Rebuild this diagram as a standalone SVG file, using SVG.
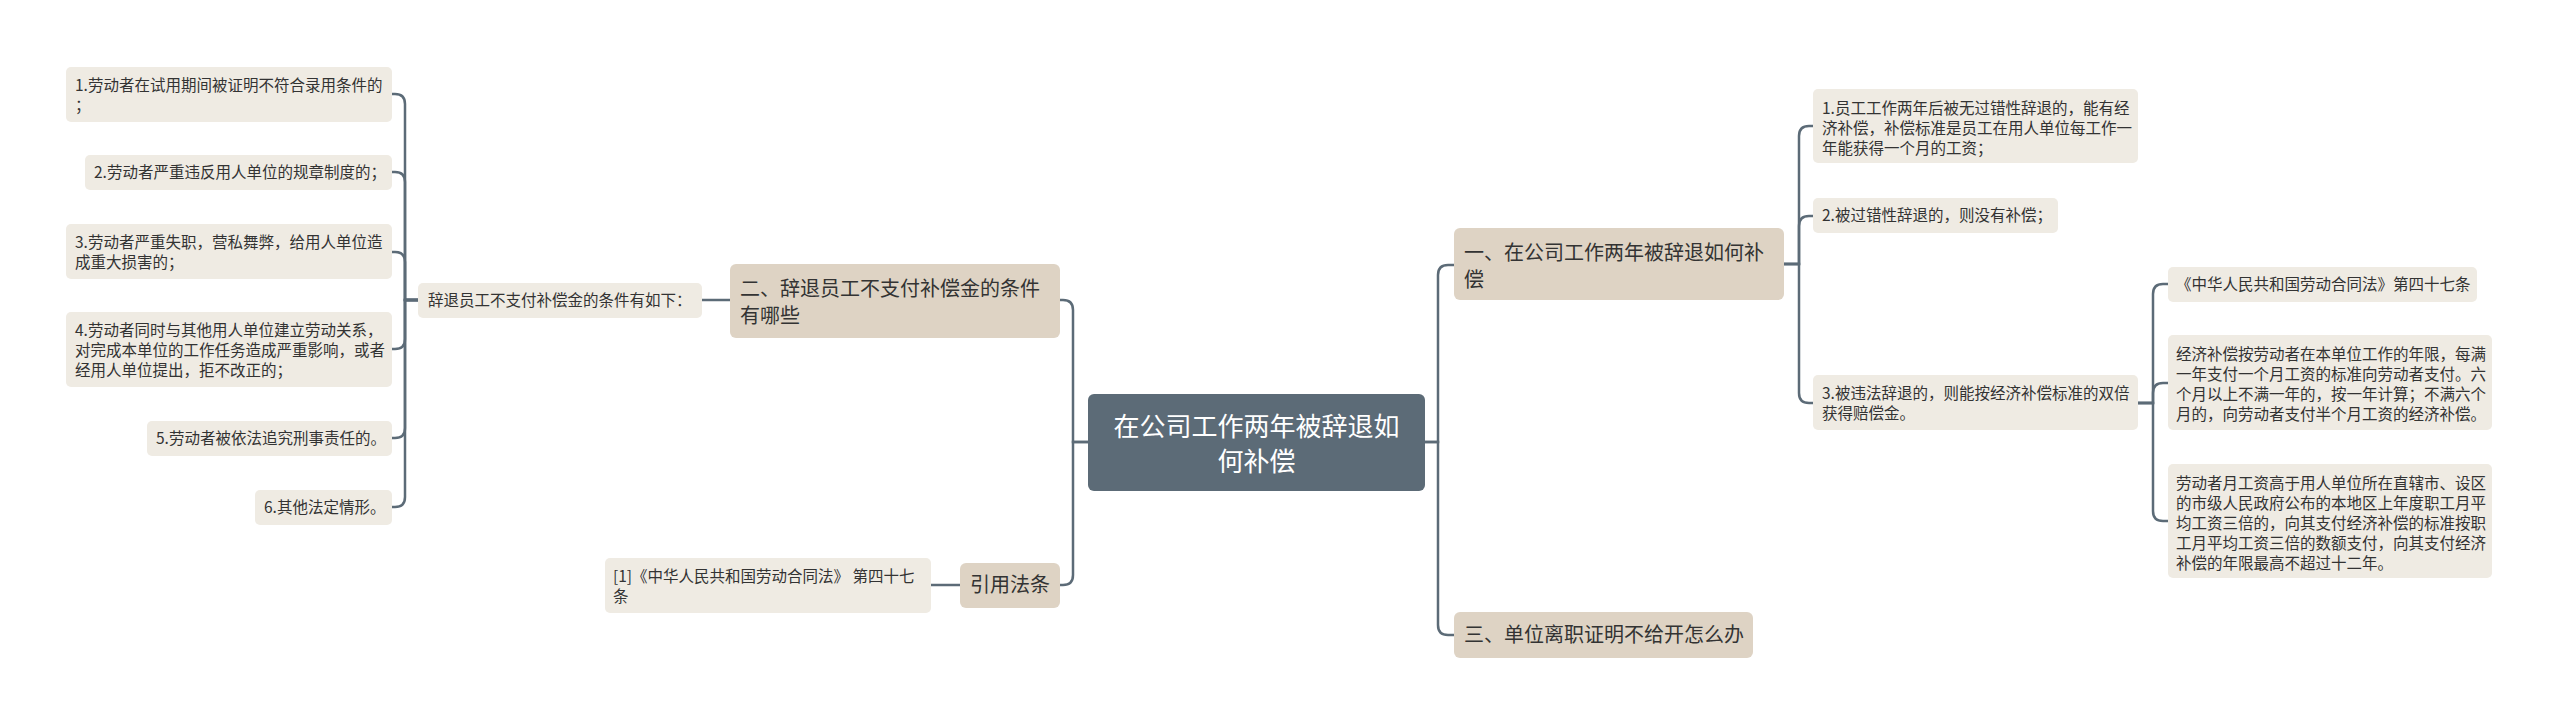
<svg xmlns="http://www.w3.org/2000/svg" width="2560" height="725" viewBox="0 0 2560 725">
<style>
.bg{fill:#ffffff}
.root rect{fill:#5c6b77}
.root text{fill:#ffffff;font-size:26px}
.l1 rect{fill:#ded3c4}
.l1 text{fill:#333333;font-size:20px}
.leaf rect{fill:#efebe3}
.leaf text{fill:#333333;font-size:15.5px}
text{font-family:"Noto Sans CJK SC","Noto Sans",sans-serif}
.conn path{fill:none;stroke:#5c6b77;stroke-width:2.5}
</style>
<rect class="bg" x="0" y="0" width="2560" height="725"/>
<g class="conn" id="connectors">
<path d="M1088 442 H1073 V310 Q1073 300 1063 300 H1060"/>
<path d="M1088 442 H1073 V575 Q1073 585 1063 585 H1059"/>
<path d="M1425 442 H1438 V275 Q1438 265 1448 265 H1454"/>
<path d="M1425 442 H1438 V625 Q1438 635 1448 635 H1454"/>
<path d="M730 300 H702"/>
<path d="M960 585 H931"/>
<path d="M418 300 H405 V104 Q405 94 395 94 H392"/>
<path d="M418 300 H405 V182 Q405 172 395 172 H392"/>
<path d="M418 300 H405 V262 Q405 252 395 252 H392"/>
<path d="M418 300 H405 V339 Q405 349 395 349 H392"/>
<path d="M418 300 H405 V428 Q405 438 395 438 H392"/>
<path d="M418 300 H405 V497 Q405 507 395 507 H392"/>
<path d="M1784 264 H1799 V136 Q1799 126 1809 126 H1813"/>
<path d="M1784 264 H1799 V226 Q1799 216 1809 216 H1813"/>
<path d="M1784 264 H1799 V393 Q1799 403 1809 403 H1813"/>
<path d="M2138 403 H2153 V294 Q2153 284 2163 284 H2168"/>
<path d="M2138 403 H2153 V393 Q2153 383 2163 383 H2168"/>
<path d="M2138 403 H2153 V511 Q2153 521 2163 521 H2168"/>
</g>
<g id="root" class="root">
<rect x="1088" y="394" width="337" height="97" rx="6"/>
<text x="1256.5" y="436" text-anchor="middle">在公司工作两年被辞退如</text>
<text x="1256.5" y="471" text-anchor="middle">何补偿</text>
</g>
<g id="n2" class="l1">
<rect x="730" y="264" width="330" height="74" rx="6"/>
<text x="740" y="296">二、辞退员工不支付补偿金的条件</text>
<text x="740" y="323">有哪些</text>
</g>
<g id="n2a" class="leaf">
<rect x="418" y="283" width="284" height="35" rx="5"/>
<text x="428" y="306">辞退员工不支付补偿金的条件有如下：</text>
</g>
<g id="l1" class="leaf">
<rect x="66" y="67" width="326" height="55" rx="5"/>
<text x="75" y="91">1.劳动者在试用期间被证明不符合录用条件的</text>
<text x="75" y="111">；</text>
</g>
<g id="l2" class="leaf">
<rect x="85" y="155" width="307" height="35" rx="5"/>
<text x="94" y="178">2.劳动者严重违反用人单位的规章制度的；</text>
</g>
<g id="l3" class="leaf">
<rect x="66" y="224" width="326" height="55" rx="5"/>
<text x="75" y="248">3.劳动者严重失职，营私舞弊，给用人单位造</text>
<text x="75" y="268">成重大损害的；</text>
</g>
<g id="l4" class="leaf">
<rect x="66" y="312" width="326" height="75" rx="5"/>
<text x="75" y="336">4.劳动者同时与其他用人单位建立劳动关系，</text>
<text x="75" y="356">对完成本单位的工作任务造成严重影响，或者</text>
<text x="75" y="376">经用人单位提出，拒不改正的；</text>
</g>
<g id="l5" class="leaf">
<rect x="147" y="421" width="245" height="35" rx="5"/>
<text x="156" y="444">5.劳动者被依法追究刑事责任的。</text>
</g>
<g id="l6" class="leaf">
<rect x="255" y="490" width="137" height="35" rx="5"/>
<text x="264" y="513">6.其他法定情形。</text>
</g>
<g id="n4" class="l1">
<rect x="960" y="563" width="100" height="45" rx="6"/>
<text x="970" y="592">引用法条</text>
</g>
<g id="n4a" class="leaf">
<rect x="605" y="558" width="326" height="55" rx="5"/>
<text x="613" y="582">[1]《中华人民共和国劳动合同法》 第四十七</text>
<text x="613" y="602">条</text>
</g>
<g id="n1" class="l1">
<rect x="1454" y="228" width="330" height="72" rx="6"/>
<text x="1464" y="260">一、在公司工作两年被辞退如何补</text>
<text x="1464" y="287">偿</text>
</g>
<g id="n3" class="l1">
<rect x="1454" y="612" width="299" height="46" rx="6"/>
<text x="1464" y="642">三、单位离职证明不给开怎么办</text>
</g>
<g id="r1" class="leaf">
<rect x="1813" y="89" width="325" height="74" rx="5"/>
<text x="1822" y="114">1.员工工作两年后被无过错性辞退的，能有经</text>
<text x="1822" y="134">济补偿，补偿标准是员工在用人单位每工作一</text>
<text x="1822" y="154">年能获得一个月的工资；</text>
</g>
<g id="r2" class="leaf">
<rect x="1813" y="198" width="245" height="35" rx="5"/>
<text x="1822" y="221">2.被过错性辞退的，则没有补偿；</text>
</g>
<g id="r3" class="leaf">
<rect x="1813" y="375" width="325" height="55" rx="5"/>
<text x="1822" y="399">3.被违法辞退的，则能按经济补偿标准的双倍</text>
<text x="1822" y="419">获得赔偿金。</text>
</g>
<g id="s1" class="leaf">
<rect x="2168" y="267" width="309" height="35" rx="5"/>
<text x="2176" y="290">《中华人民共和国劳动合同法》第四十七条</text>
</g>
<g id="s2" class="leaf">
<rect x="2168" y="335" width="324" height="95" rx="5"/>
<text x="2176" y="360">经济补偿按劳动者在本单位工作的年限，每满</text>
<text x="2176" y="380">一年支付一个月工资的标准向劳动者支付。六</text>
<text x="2176" y="400">个月以上不满一年的，按一年计算；不满六个</text>
<text x="2176" y="420">月的，向劳动者支付半个月工资的经济补偿。</text>
</g>
<g id="s3" class="leaf">
<rect x="2168" y="464" width="324" height="114" rx="5"/>
<text x="2176" y="489">劳动者月工资高于用人单位所在直辖市、设区</text>
<text x="2176" y="509">的市级人民政府公布的本地区上年度职工月平</text>
<text x="2176" y="529">均工资三倍的，向其支付经济补偿的标准按职</text>
<text x="2176" y="549">工月平均工资三倍的数额支付，向其支付经济</text>
<text x="2176" y="569">补偿的年限最高不超过十二年。</text>
</g>
</svg>
